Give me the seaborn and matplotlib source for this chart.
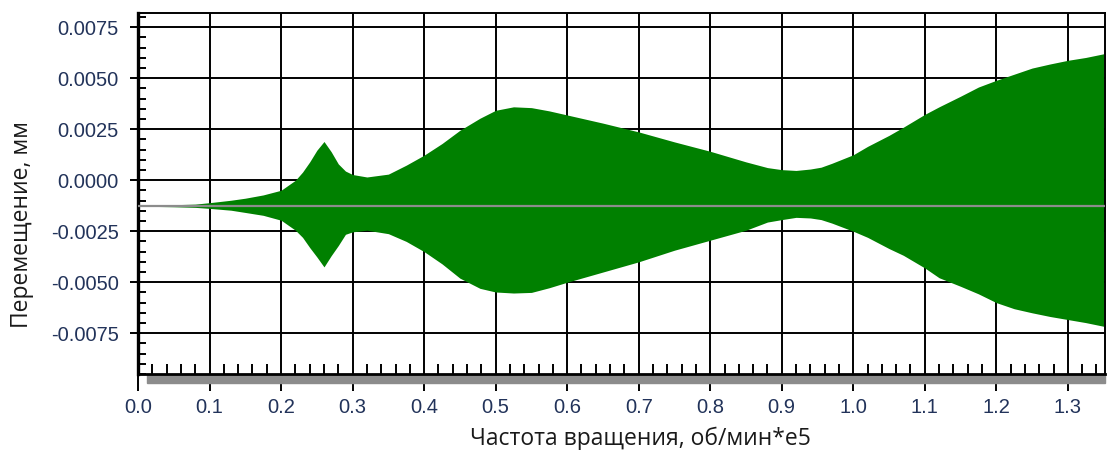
# Огибающая перемещения ротора по частоте вращения

import numpy as np
import matplotlib
matplotlib.use("Agg")
import matplotlib.pyplot as plt
from matplotlib.patches import Rectangle
from matplotlib.ticker import MultipleLocator, FormatStrFormatter
import seaborn as sns


# Data (envelope of the signal)

freq = [0.00, 0.05, 0.08, 0.10, 0.13, 0.15, 0.175, 0.20, 0.22, 0.23, 0.24,
        0.25, 0.26, 0.27, 0.28, 0.29, 0.30, 0.32, 0.35, 0.375, 0.40, 0.425,
        0.45, 0.478, 0.50, 0.525, 0.55, 0.575, 0.60, 0.65, 0.70, 0.75, 0.80,
        0.85, 0.88, 0.90, 0.92, 0.94, 0.955, 0.97, 1.00, 1.02, 1.05, 1.07,
        1.10, 1.12, 1.15, 1.175, 1.20, 1.225, 1.25, 1.275, 1.30, 1.325, 1.35]

upper = [-0.00123, -0.00120, -0.00117, -0.00110, -0.00098, -0.00088, -0.00072,
         -0.00049, 0.00000, 0.00040, 0.00090, 0.00147, 0.00190, 0.00140,
         0.00080, 0.00045, 0.00028, 0.00016, 0.00030, 0.00074, 0.00123,
         0.00180, 0.00245, 0.00304, 0.00343, 0.00360, 0.00356, 0.00340,
         0.00320, 0.00280, 0.00237, 0.00188, 0.00142, 0.00090, 0.00062,
         0.00052, 0.00048, 0.00055, 0.00064, 0.00083, 0.00125, 0.00166,
         0.00220, 0.00260, 0.00323, 0.00360, 0.00412, 0.00457, 0.00490,
         0.00520, 0.00550, 0.00570, 0.00588, 0.00602, 0.00620]

lower = [-0.00127, -0.00130, -0.00133, -0.00138, -0.00147, -0.00158, -0.00172,
         -0.00196, -0.00245, -0.00280, -0.00330, -0.00376, -0.00425, -0.00370,
         -0.00320, -0.00265, -0.00253, -0.00245, -0.00262, -0.00300, -0.00350,
         -0.00410, -0.00480, -0.00530, -0.00548, -0.00553, -0.00550, -0.00527,
         -0.00500, -0.00450, -0.00400, -0.00343, -0.00294, -0.00245, -0.00205,
         -0.00193, -0.00182, -0.00185, -0.00193, -0.00210, -0.00250, -0.00280,
         -0.00335, -0.00368, -0.00430, -0.00478, -0.00520, -0.00557, -0.00600,
         -0.00630, -0.00650, -0.00668, -0.00683, -0.00698, -0.00716]

center_mm = -0.00125

tick_color = "#22335a"


# Plot

sns.set_theme(style="white")
plt.rcParams["font.family"] = ["Liberation Sans", "DejaVu Sans"]

fig = plt.figure(figsize=(11.07, 4.5), dpi=100)
ax = fig.add_axes([0.1247, 0.1689, 0.8735, 0.8022])

ax.fill_between(freq, lower, upper, color="#008000", linewidth=0, zorder=2)
ax.axhline(center_mm, color="#8c8c8c", linewidth=1.6, zorder=3)

ax.set_xlim(0, 1.352)
ax.set_ylim(-0.0095, 0.0082)

ax.xaxis.set_major_locator(MultipleLocator(0.1))
ax.xaxis.set_minor_locator(MultipleLocator(0.02))
ax.xaxis.set_major_formatter(FormatStrFormatter("%.1f"))
ax.yaxis.set_major_locator(MultipleLocator(0.0025))
ax.yaxis.set_minor_locator(MultipleLocator(0.0005))
ax.yaxis.set_major_formatter(FormatStrFormatter("%.4f"))

ax.grid(True, which="major", color="black", linewidth=1.4, zorder=1)
ax.set_axisbelow(True)

ax.tick_params(axis="x", which="major", direction="out", length=12, width=1.4,
               color="black", labelsize=14.5, labelcolor=tick_color, pad=5,
               bottom=True)
ax.tick_params(axis="x", which="minor", direction="in", length=7, width=1.4,
               color="black", bottom=True)
ax.tick_params(axis="y", which="major", direction="out", length=6, width=1.4,
               color="black", labelsize=14.5, labelcolor=tick_color, pad=8,
               left=True)
ax.tick_params(axis="y", which="minor", direction="in", length=6, width=1.4,
               color="black", left=True)

for side in ["top", "right"]:
    ax.spines[side].set_color("black")
    ax.spines[side].set_linewidth(1.4)
ax.spines["left"].set_color("black")
ax.spines["left"].set_linewidth(2.4)
ax.spines["bottom"].set_color("black")
ax.spines["bottom"].set_linewidth(2.0)

# gray bar under the x axis
ax.add_patch(Rectangle((0.0093, -0.024), 0.991, 0.021, transform=ax.transAxes,
                       color="#8c8c8c", clip_on=False, zorder=1))

ax.set_xlabel("Частота вращения, об/мин*e5", fontsize=16.5, color="#1a1a1a",
              family=["Open Sans", "DejaVu Sans"])
ax.set_ylabel("Перемещение, мм", fontsize=16.5, color="#1a1a1a",
              family=["Open Sans", "DejaVu Sans"])
ax.xaxis.set_label_coords(0.520, -0.145)
ax.yaxis.set_label_coords(-0.108, 0.414)

fig.savefig("out.png", dpi=100)
